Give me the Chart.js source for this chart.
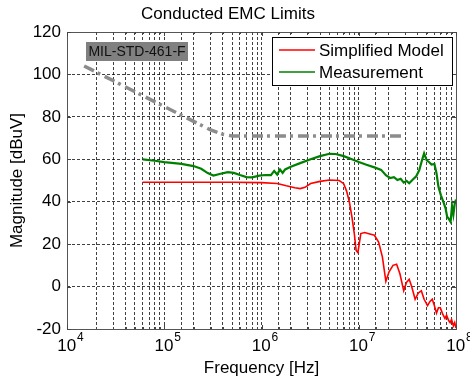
<!DOCTYPE html>
<html>
<head>
<meta charset="utf-8">
<script src="https://cdn.jsdelivr.net/npm/chart.js@4"></script>
<style>
  html, body { margin: 0; padding: 0; background: #fff; }
  #wrap { width: 470px; height: 383px; }
</style>
</head>
<body>
<div id="wrap"><canvas id="myChart" width="470" height="383"></canvas></div>
<script>
/*------------------------------ data -----------------------------*/
// MIL-STD-461-F limit line
const limitFreq = [1.5e4, 3e5, 4e5, 5e5, 2.8e7];
const limitMag = [104, 73.8, 71.8, 71, 71];

// Simplified Model (red)
const modelFreq = [6e4, 1e5, 2e5, 5e5, 1e6, 1.45e6, 1.8e6, 2.2e6, 2.5e6, 2.8e6, 3.2e6, 4e6, 5e6, 6.3e6,
    7e6, 7.5e6, 8e6, 8.5e6, 9e6, 9.4e6, 9.8e6, 1.05e7, 1.15e7, 1.3e7, 1.45e7, 1.6e7, 1.75e7, 1.9e7,
    2.05e7, 2.25e7, 2.45e7, 2.65e7, 2.9e7, 3.1e7, 3.3e7, 3.5e7, 3.8e7, 4.1e7, 4.4e7, 4.7e7, 5.1e7,
    5.4e7, 5.7e7, 6e7, 6.3e7, 6.6e7, 6.9e7, 7.3e7, 7.7e7, 8e7, 8.4e7, 8.7e7, 9e7, 9.4e7, 9.7e7, 1e8];
const modelMag = [49.2, 49.2, 49.2, 49.2, 49, 48.6, 47.5, 46.6, 46.2, 46.8, 48.6, 49.6, 50.2, 50,
    48.5, 45, 40, 33, 25, 17, 16, 25, 25.5, 24.8, 24.2, 21, 14, 2.5,
    7, 10, 10.5, 6, -2, 2, 3.4, 0, -6, -3, -2, -6, -9,
    -7, -6, -9, -12.5, -10, -10, -13, -15, -13.5, -16, -17, -15.5, -18.5, -17, -19.5];

// Measurement (green)
const measFreq = [6e4, 8e4, 1e5, 1.5e5, 2e5, 2.4e5, 2.8e5, 3.2e5, 3.8e5, 4.5e5, 5.2e5, 6e5, 7e5, 8e5,
    9.5e5, 1.1e6, 1.25e6, 1.35e6, 1.45e6, 1.55e6, 1.65e6, 1.75e6, 2e6, 2.5e6, 3.2e6, 4e6, 5e6, 5.8e6,
    7e6, 8.5e6, 1e7, 1.2e7, 1.45e7, 1.7e7, 1.9e7, 2.1e7, 2.3e7, 2.5e7, 2.7e7, 2.9e7, 3.1e7, 3.3e7,
    3.6e7, 3.9e7, 4.2e7, 4.5e7, 4.7e7, 5e7, 5.3e7, 5.6e7, 6e7, 6.3e7, 6.6e7, 7e7, 7.4e7, 7.8e7, 8.1e7,
    8.4e7, 8.8e7, 9.1e7, 9.4e7, 9.7e7, 1e8];
const measMag = [60, 59.3, 58.7, 57.8, 56.8, 55.5, 53.5, 52.3, 53.2, 53.9, 53.6, 52.6, 51.6, 51.5,
    52.3, 52.6, 52.5, 54.5, 52.8, 55.2, 53.6, 55.2, 56.5, 58.2, 60, 61.5, 62.6, 62.5,
    61.5, 60, 58.7, 57.4, 56.2, 55, 52.5, 51.2, 51.6, 50.2, 50.8, 49, 49.8, 48.7,
    50.5, 52, 55, 60, 62.8, 59.5, 58.6, 57.5, 57.8, 53.5, 47, 43, 40, 37, 33,
    32, 30.5, 38, 34, 39, 41];

// axes
const xDecades = [4, 5, 6, 7, 8];
const yTicks = [-20, 0, 20, 40, 60, 80, 100, 120];

const FONT = 'Liberation Sans, Arial, Helvetica, sans-serif';

function toPoints(xs, ys) {
    return xs.map((x, i) => ({ x: x, y: ys[i] }));
}

/*----------------------------- plugin ----------------------------*/
const matlabDecor = {
    id: 'matlabDecor',
    afterDraw(chart) {
        const ctx = chart.ctx;
        const a = chart.chartArea;
        const xs = chart.scales.x;
        const ys = chart.scales.y;
        ctx.save();
        // box around axes
        ctx.strokeStyle = '#555';
        ctx.lineWidth = 1;
        ctx.strokeRect(Math.round(a.left) + 0.5, Math.round(a.top) + 0.5,
            Math.round(a.right - a.left), Math.round(a.bottom - a.top));

        // inward tick marks (matlab style)
        ctx.strokeStyle = '#444';
        ctx.beginPath();
        xs.ticks.forEach(function (t) {
            const px = Math.round(xs.getPixelForValue(t.value)) + 0.5;
            const len = t.major ? 4 : 2;
            ctx.moveTo(px, a.top); ctx.lineTo(px, a.top + len);
            ctx.moveTo(px, a.bottom); ctx.lineTo(px, a.bottom - len);
        });
        yTicks.forEach(function (v) {
            const py = Math.round(ys.getPixelForValue(v)) + 0.5;
            ctx.moveTo(a.left, py); ctx.lineTo(a.left + 4, py);
            ctx.moveTo(a.right, py); ctx.lineTo(a.right - 4, py);
        });
        ctx.stroke();

        // x tick labels 10^n
        ctx.fillStyle = '#000';
        ctx.textBaseline = 'alphabetic';
        xDecades.forEach(function (n) {
            const px = xs.getPixelForValue(Math.pow(10, n));
            ctx.font = '17px ' + FONT;
            const wBase = ctx.measureText('10').width;
            ctx.font = '12px ' + FONT;
            const wExp = ctx.measureText(String(n)).width;
            const start = px - (wBase + wExp) / 2 + 3;
            ctx.font = '17px ' + FONT;
            ctx.textAlign = 'left';
            ctx.fillText('10', start, 351);
            ctx.font = '12px ' + FONT;
            ctx.fillText(String(n), start + wBase + 1, 341);
        });

        // MIL-STD annotation
        ctx.fillStyle = '#808080';
        ctx.fillRect(86, 42, 102, 19);
        ctx.fillStyle = '#111';
        ctx.font = '14px ' + FONT;
        ctx.textAlign = 'center';
        ctx.textBaseline = 'middle';
        ctx.fillText('MIL-STD-461-F', 137, 52);

        // legend
        const lx = 272, ly = 37, lw = 180, lh = 48;
        ctx.fillStyle = '#fff';
        ctx.fillRect(lx, ly, lw, lh);
        ctx.strokeStyle = '#000';
        ctx.lineWidth = 1;
        ctx.strokeRect(lx + 0.5, ly + 0.5, lw, lh);
        const items = [chart.data.datasets[1], chart.data.datasets[2]];
        items.forEach(function (ds, i) {
            const yy = ly + 13 + i * 22;
            ctx.strokeStyle = ds.borderColor;
            ctx.lineWidth = 1.6;
            ctx.beginPath();
            ctx.moveTo(279, yy);
            ctx.lineTo(315, yy);
            ctx.stroke();
            ctx.fillStyle = '#000';
            ctx.font = '17px ' + FONT;
            ctx.textAlign = 'left';
            ctx.textBaseline = 'middle';
            ctx.fillText(ds.label, 319, yy + 1);
        });
        ctx.restore();
    }
};

/*----------------------------- chart -----------------------------*/
const config = {
    type: 'line',
    data: {
        datasets: [{
            label: 'MIL-STD-461-F',
            data: toPoints(limitFreq, limitMag),
            borderColor: '#8c8c8c',
            borderWidth: 3.5,
            borderDash: [11, 4, 3, 5],
            pointRadius: 0,
            fill: false,
            tension: 0
        }, {
            label: 'Simplified Model',
            data: toPoints(modelFreq, modelMag),
            borderColor: '#ff0000',
            borderWidth: 1.6,
            pointRadius: 0,
            fill: false,
            tension: 0
        }, {
            label: 'Measurement',
            data: toPoints(measFreq, measMag),
            borderColor: '#008000',
            borderWidth: 2.2,
            pointRadius: 0,
            fill: false,
            tension: 0
        }]
    },
    options: {
        responsive: false,
        animation: false,
        layout: { padding: { left: 0, right: 14, top: 0, bottom: 0 } },
        plugins: {
            legend: { display: false },
            tooltip: { enabled: false },
            title: {
                display: true,
                text: 'Conducted EMC Limits',
                color: '#000',
                font: { family: FONT, size: 17, weight: 'normal' },
                padding: { top: 4, bottom: 7.6 }
            }
        },
        scales: {
            x: {
                type: 'logarithmic',
                min: 1e4,
                max: 1e8,
                afterFit: function (scale) { scale.height = 54; },
                ticks: { display: false },
                grid: { color: 'rgba(0,0,0,0.75)', lineWidth: 1, drawTicks: false },
                border: { display: false, dash: [3, 2] },
                title: {
                    display: true,
                    text: 'Frequency [Hz]',
                    color: '#000',
                    font: { family: FONT, size: 17 },
                    padding: { top: 0, bottom: 4 }
                }
            },
            y: {
                type: 'linear',
                min: -20,
                max: 120,
                afterFit: function (scale) { scale.width = 67; },
                afterBuildTicks: function (scale) {
                    scale.ticks = yTicks.map(v => ({ value: v }));
                },
                ticks: {
                    color: '#000',
                    padding: 6,
                    font: { family: FONT, size: 17 }
                },
                grid: { color: 'rgba(0,0,0,0.75)', lineWidth: 1, drawTicks: false },
                border: { display: false, dash: [3, 2] },
                title: {
                    display: true,
                    text: 'Magnitude [dBuV]',
                    color: '#000',
                    font: { family: FONT, size: 17 },
                    padding: { top: 7, bottom: 0 }
                }
            }
        }
    },
    plugins: [matlabDecor]
};

const myChart = new Chart(document.getElementById('myChart'), config);
</script>
</body>
</html>
